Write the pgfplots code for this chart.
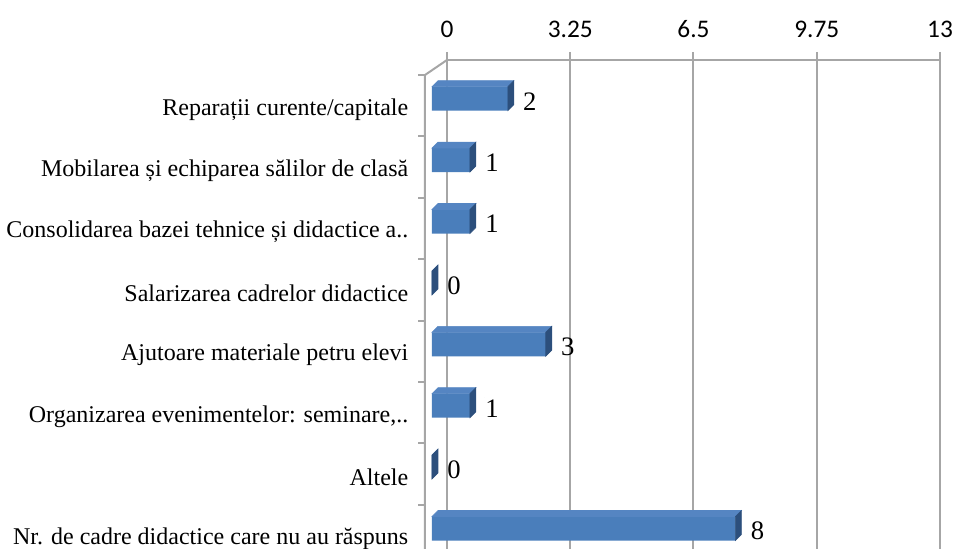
\documentclass[border=0pt]{standalone}
\usepackage{pgfplots}
\pgfplotsset{compat=1.18}
\usepackage{pgfplotstable}
\usepackage{fontspec}
\setmainfont{Liberation Serif}
\newfontfamily\tickfont{Carlito}
\definecolor{barfront}{HTML}{4A7EBB}
\definecolor{bartop}{HTML}{5585C2}
\definecolor{barside}{HTML}{2C4F7C}
\definecolor{gridgray}{HTML}{A6A6A6}
\pgfplotstableread{
y v
0 2
1 1
2 1
3 0
4 3
5 1
6 0
7 8
}\datatable
\begin{document}
\begin{tikzpicture}
\begin{axis}[
  name=ax,
  scale only axis,
  width=369.75pt, height=366.75pt,
  xmin=0, xmax=13,
  ymin=-0.5, ymax=7.464,
  y dir=reverse,
  axis x line*=top,
  axis y line*=left,
  x axis line style={draw=gridgray, line width=1.5pt, -},
  y axis line style={draw=none, -},
  /pgf/number format/assume math mode=true,
  xtick={0,3.25,6.5,9.75,13},
  xticklabels={0,3.25,6.5,9.75,13},
  xticklabel style={font=\tickfont\fontsize{19}{19}\selectfont, text=black, yshift=7pt},
  xmajorgrids,
  grid style={draw=gridgray, line width=1.5pt},
  tick align=outside,
  major tick length=6pt,
  xtick style={draw=gridgray, line width=1.5pt},
  ytick={0,1,2,3,4,5,6,7},
  yticklabels={Reparații curente/capitale,
    Mobilarea și echiparea sălilor de clasă,
    Consolidarea bazei tehnice și didactice a..,
    Salarizarea cadrelor didactice,
    Ajutoare materiale petru elevi,
    {Organizarea evenimentelor: seminare,..},
    Altele,
    Nr. de cadre didactice care nu au răspuns},
  ytick style={draw=none},
  yticklabel style={font=\rmfamily\fontsize{18}{18}\selectfont, yshift=-14pt, xshift=-19.5pt},
  clip=false,
]
\addplot[scatter, only marks, mark=*, mark size=0pt, mark options={draw=none, fill=none},
  visualization depends on={\thisrow{v} \as \val},
  scatter/@pre marker code/.code={%
    \pgfmathsetmacro\L{\val*28.4423}%
    \fill[bartop] (-\L pt-11.25pt,3pt) -- ++(4.5pt,4.5pt) -- ++(\L pt,0pt) -- (-11.25pt,3pt) -- cycle;
    \fill[barside] (-11.25pt,-15pt) -- ++(4.5pt,4.5pt) -- ++(0pt,18pt) -- (-11.25pt,3pt) -- cycle;
  },
  scatter/@post marker code/.code={},
] table[x=v, y=y] {\datatable};
\addplot[xbar, bar width=18pt, fill=barfront, draw=none, xshift=-11.25pt, yshift=-6pt,
  nodes near coords, nodes near coords align=horizontal,
  every node near coord/.append style={font=\rmfamily\fontsize{20}{20}\selectfont, text=black, xshift=8pt, yshift=-2pt}]
  table[x=v, y=y] {\datatable};
\pgfplotsinvokeforeach{-0.5,0.5,1.5,2.5,3.5,4.5,5.5,6.5}{
  \draw[gridgray, line width=1.5pt] ([xshift=-16.5pt, yshift=-11.25pt]axis cs:0,#1) -- ++(-5pt,0pt);
}
\end{axis}
\draw[gridgray, line width=1.5pt] (ax.north west) -- ([xshift=-16.5pt, yshift=-11.25pt]ax.north west) -- ([xshift=-16.5pt]ax.south west);
\pgfresetboundingbox
\path ([xshift=-335.25pt]ax.south west) rectangle ([xshift=12.75pt, yshift=45pt]ax.north east);
\end{tikzpicture}
\end{document}
